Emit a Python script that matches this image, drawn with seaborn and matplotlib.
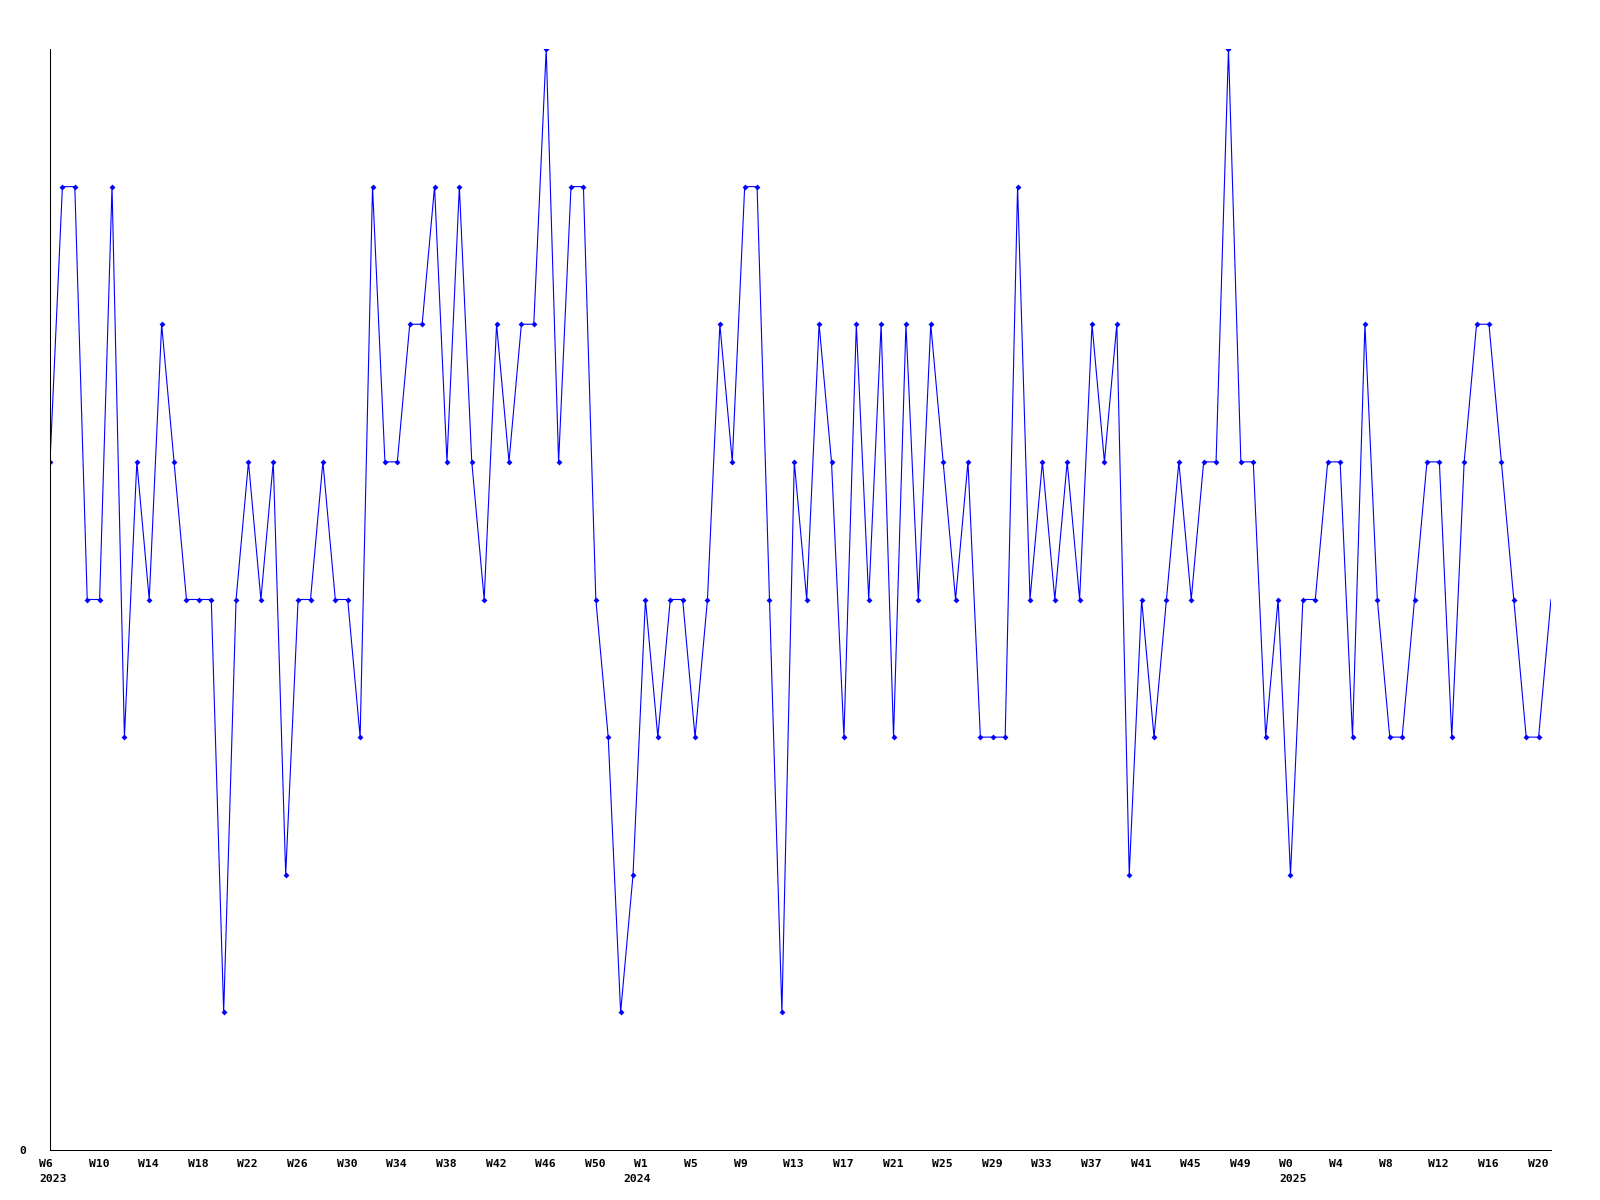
import numpy as np
import pandas as pd
import matplotlib
matplotlib.use('Agg')
import matplotlib.pyplot as plt
import matplotlib.transforms as mtransforms
import seaborn as sns

# ---------------------------------------------
# Datos: un valor por semana (W6 2023 -> W21 2025)
# ---------------------------------------------
valores = [5, 7, 7, 4, 4, 7, 3, 5, 4, 6,
           5, 4, 4, 4, 1, 4, 5, 4, 5, 2,
           4, 4, 5, 4, 4, 3, 7, 5, 5, 6,
           6, 7, 5, 7, 5, 4, 6, 5, 6, 6,
           8, 5, 7, 7, 4, 3, 1, 2, 4, 3,
           4, 4, 3, 4, 6, 5, 7, 7, 4, 1,
           5, 4, 6, 5, 3, 6, 4, 6, 3, 6,
           4, 6, 5, 4, 5, 3, 3, 3, 7, 4,
           5, 4, 5, 4, 6, 5, 6, 2, 4, 3,
           4, 5, 4, 5, 5, 8, 5, 5, 3, 4,
           2, 4, 4, 5, 5, 3, 6, 4, 3, 3,
           4, 5, 5, 3, 5, 6, 6, 5, 4, 3,
           3, 4]

etiquetas_semana = ['W6', 'W10', 'W14', 'W18', 'W22', 'W26', 'W30', 'W34',
                    'W38', 'W42', 'W46', 'W50', 'W1', 'W5', 'W9', 'W13',
                    'W17', 'W21', 'W25', 'W29', 'W33', 'W37', 'W41', 'W45',
                    'W49', 'W0', 'W4', 'W8', 'W12', 'W16', 'W20']

anios = ['2023', '2024', '2025']

df = pd.DataFrame({'semana': np.arange(len(valores)), 'valor': valores})

# ---------------------------------------------
# Estilo
# ---------------------------------------------
sns.set_style('white')
plt.rcParams['font.family'] = ['DejaVu Sans Mono', 'DejaVu Sans']

W, H = 1600, 1200
fig = plt.figure(figsize=(W / 100, H / 100), dpi=100)
ax = fig.add_axes([50 / W, 50 / H, 1501 / W, 1101 / H])

sns.lineplot(data=df, x='semana', y='valor', ax=ax, color='#0000ff',
             linewidth=0.8, marker='D', markersize=3.0, markeredgewidth=0,
             markevery=list(range(len(valores) - 1)))

ax.set_xlim(0, len(valores) - 1)
ax.set_ylim(0, 8)
ax.set_xlabel('')
ax.set_ylabel('')

for lado in ['top', 'right']:
    ax.spines[lado].set_visible(False)
for lado in ['left', 'bottom']:
    ax.spines[lado].set_color('black')
    ax.spines[lado].set_linewidth(0.75)

# Ejes: solo el 0 en Y, semanas cada 4 en X
ax.set_yticks([0])
ax.set_yticklabels(['0'])
posiciones = np.arange(0, len(valores), 4)
ax.set_xticks(posiciones)
ax.set_xticklabels(etiquetas_semana)
ax.tick_params(axis='both', length=0, labelsize=8.2, labelcolor='black')
ax.tick_params(axis='y', pad=17)
ax.tick_params(axis='x', pad=6.3)

desplaz = mtransforms.ScaledTranslation(-11 / 100, 0, fig.dpi_scale_trans)
for lbl in ax.get_xticklabels():
    lbl.set_horizontalalignment('left')
    lbl.set_transform(lbl.get_transform() + desplaz)
    lbl.set_fontweight('bold')
for lbl in ax.get_yticklabels():
    lbl.set_fontweight('bold')

# Año debajo de la primera semana de cada año
# (2024 empieza el lunes 1 de enero, W1 empieza el domingo 7)
anclas = [0, 4 * etiquetas_semana.index('W1') - 6 / 7,
          4 * etiquetas_semana.index('W0')]
trans_anio = mtransforms.blended_transform_factory(ax.transData, ax.transAxes) + \
    mtransforms.ScaledTranslation(-11 / 100, -24.5 / 100, fig.dpi_scale_trans)
for x, anio in zip(anclas, anios):
    ax.text(x, 0, anio, transform=trans_anio, ha='left', va='top',
            fontsize=8.2, fontweight='bold', color='black')

fig.savefig('out.png', dpi=100)
